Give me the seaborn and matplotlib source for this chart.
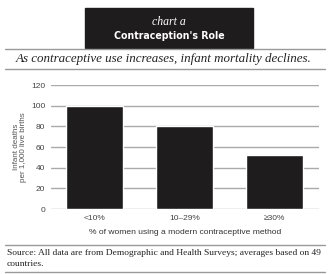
import numpy as np
import pandas as pd
import seaborn as sns
import matplotlib.pyplot as plt
from matplotlib.patches import Rectangle
from matplotlib.lines import Line2D

categories = ['<10%', '10–29%', '≥30%']
deaths = [100, 80, 52]
yticks = [0, 20, 40, 60, 80, 100, 120]

df = pd.DataFrame({'group': categories, 'deaths': deaths})

sns.set_style('white')
plt.rcParams['font.family'] = ['Liberation Sans', 'DejaVu Sans']

fig = plt.figure(figsize=(3.29, 2.74), dpi=100)
W, H = 329, 274


def fx(px):
    return px / W


def fy(py):
    return 1 - py / H


# title box
fig.patches.append(Rectangle((fx(85), fy(48)), fx(253) - fx(85), fy(8) - fy(48),
                             transform=fig.transFigure, color='#1e1c1c', zorder=0))
fig.text(fx(169), fy(22), 'chart a', color='white', ha='center', va='center',
         family=['Liberation Serif', 'DejaVu Serif'], style='italic', fontsize=8.5)
fig.text(fx(169), fy(36), "Contraception's Role", color='white', ha='center', va='center',
         family=['DejaVu Sans'], stretch='condensed', weight='bold', fontsize=7.6)

for py in [49, 69, 245, 272]:
    fig.lines.append(Line2D([fx(5), fx(325)], [fy(py), fy(py)], transform=fig.transFigure,
                            color='#999999', lw=1.0))

fig.text(fx(164), fy(59), 'As contraceptive use increases, infant mortality declines.',
         ha='center', va='center', family=['Liberation Serif', 'DejaVu Serif'],
         style='italic', fontsize=9.4, color='#222222')

ax = fig.add_axes([fx(51), fy(209), fx(319) - fx(51), fy(85) - fy(209)])
sns.barplot(data=df, x='group', y='deaths', color='#1e1c1c', saturation=1,
            width=0.63, ax=ax, zorder=3)
ax.set_ylim(0, 120)
ax.set_xlim(-0.48, 2.49)
ax.set_yticks(yticks)
for t in yticks:
    ax.axhline(t, color='#aaaaaa', lw=1.0, zorder=1)
for s in ax.spines.values():
    s.set_visible(False)
ax.tick_params(axis='both', length=0, labelsize=6, labelcolor='#444444', pad=4)
ax.set_xlabel('% of women using a modern contraceptive method', fontsize=6.1,
              color='#333333', labelpad=5)
ax.set_ylabel('Infant deaths\nper 1,000 live births', fontsize=5.8, color='#555555',
              linespacing=1.1, labelpad=3)

fig.text(fx(7), fy(253), 'Source: All data are from Demographic and Health Surveys; averages based on 49',
         ha='left', va='center', family=['Liberation Serif', 'DejaVu Serif'], fontsize=6.8,
         color='#222222')
fig.text(fx(7), fy(264), 'countries.', ha='left', va='center',
         family=['Liberation Serif', 'DejaVu Serif'], fontsize=6.8, color='#222222')

fig.savefig('out.png', dpi=100, facecolor='white')
